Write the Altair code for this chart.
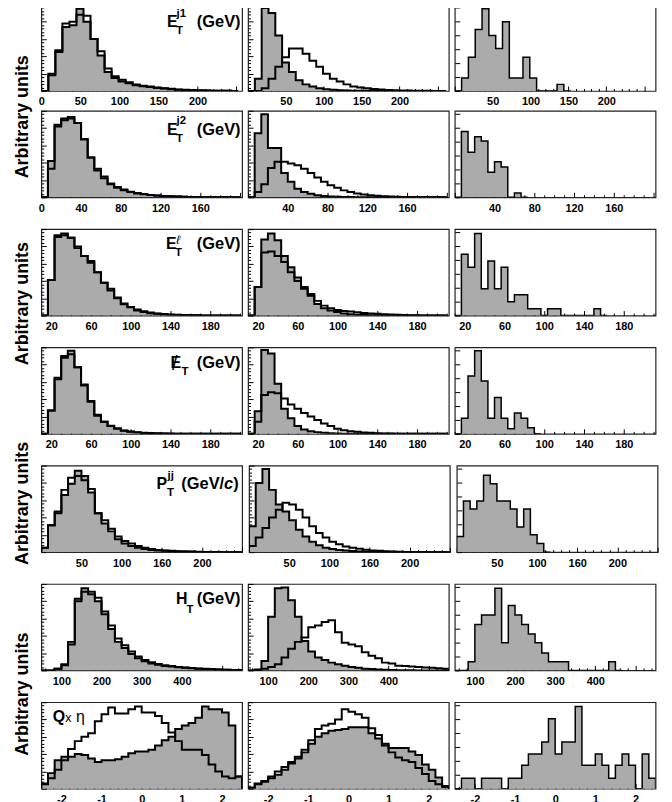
import altair as alt
import pandas as pd

GRAY = "#ababab"
INK = "#000000"
FONT = "Liberation Sans"
NUM_FONT = "Liberation Sans Narrow, Liberation Sans"

# ---------------- histogram contents (arbitrary units) ----------------
R1C1_GRAY = [0, 20, 47, 74, 76, 95, 80, 60, 41, 22, 15, 11, 9, 6.5, 5.5, 4.5, 3.5, 2.8, 2, 1.5, 1.2, 0.9, 0.6, 0.4, 0.3, 0.2, 0.1, 0]
R1C1_OPEN = [0, 18, 45, 78, 80, 88, 87, 60, 46, 26, 17, 13, 10, 7.5, 6, 5, 4, 3.2, 2.4, 1.8, 1.4, 1, 0.7, 0.5, 0.3, 0.2, 0.1, 0]
R1C2_GRAY = [0, 14, 96, 90, 64, 33, 22, 12.5, 7.6, 5, 3, 2, 1.3, 0.8, 0.5, 0.3, 0.2, 0.1, 0, 0, 0, 0, 0, 0, 0, 0, 0, 0, 0]
R1C2_OPEN = [0, 0, 3, 14, 28, 39, 49, 49, 43, 35, 28, 20, 14, 11, 7.6, 5, 4, 3, 2.2, 1.6, 1.2, 0.9, 0.6, 0.4, 0.3, 0.2, 0.1, 0.05, 0]
R1C3 = [0, 15, 39, 71, 95, 64, 49, 80, 15, 15, 39, 15, 0, 0, 0, 7.6, 0]

R2C1_GRAY = [0, 42, 84, 91, 93, 86, 67, 46, 31, 22, 15, 11, 8, 6, 4.5, 3.4, 2.6, 2, 1.5, 1.1, 0.8, 0.6, 0.4, 0.3, 0.2, 0.15, 0.1, 0.05, 0, 0]
R2C1_OPEN = [0, 33, 82, 89, 91, 86, 67, 46, 33, 24, 16, 12, 9, 6.5, 5, 3.8, 2.8, 2.1, 1.6, 1.2, 0.9, 0.6, 0.4, 0.3, 0.2, 0.15, 0.1, 0.05, 0, 0]
R2C2_GRAY = [0, 74, 96, 57, 57, 28, 18, 10, 6, 4, 2.5, 1.6, 1, 0.6, 0.4, 0.25, 0.15, 0.1, 0.05, 0, 0, 0, 0, 0, 0, 0, 0, 0, 0, 0]
R2C2_OPEN = [0, 6, 15, 34, 41, 41, 39, 37, 33, 28, 23, 18, 14, 11, 8, 6, 4.5, 3.3, 2.5, 1.8, 1.3, 0.9, 0.6, 0.4, 0.3, 0.2, 0.1, 0.05, 0, 0]
R2C3 = [0, 76, 52, 70, 65, 29, 41, 35, 0, 5, 0]

R3C1_GRAY = [0, 41, 93, 95, 90, 78, 69, 61, 50, 38, 29, 20, 13, 9.5, 6, 4, 2.7, 2, 1.5, 1.1, 0.8, 0.6, 0.4, 0.3, 0.2, 0.15, 0.1, 0.05, 0, 0]
R3C1_OPEN = [0, 41, 91, 93, 90, 80, 69, 63, 50, 38, 31, 21, 14, 10, 7, 5, 3.5, 2.5, 1.8, 1.3, 1, 0.7, 0.5, 0.3, 0.2, 0.15, 0.1, 0.05, 0, 0]
R3C2_GRAY = [0, 33, 88, 95, 87, 69, 56, 44, 33, 23, 13.5, 8.5, 6, 4, 2.5, 1.5, 1, 0.6, 0.4, 0.3, 0.2, 0.1, 0.05, 0, 0, 0, 0, 0, 0, 0]
R3C2_OPEN = [0, 33, 73, 74, 69, 62, 50, 40, 31, 25, 17, 11.5, 8.5, 6.5, 5.4, 4.6, 3.8, 3, 2.3, 2, 1.5, 1.2, 0.9, 0.6, 0.4, 0.3, 0.2, 0.1, 0, 0]
R3C3 = [0, 71, 56, 95, 31, 63, 31, 56, 16, 24, 24, 8, 8, 0, 8, 8, 0, 0, 0, 0, 0, 8, 0]

R4C1_GRAY = [0, 27, 65, 90, 96, 77, 56, 37, 21, 14, 9, 6, 3.5, 2.3, 1.5, 1, 0.7, 0.5, 0.3, 0.2, 0.1, 0.05, 0, 0, 0, 0, 0, 0, 0, 0]
R4C1_OPEN = [0, 27, 63, 88, 92, 77, 57, 38, 22, 14, 9.5, 6.5, 4, 2.8, 2, 1.4, 1, 0.7, 0.5, 0.3, 0.2, 0.1, 0.05, 0, 0, 0, 0, 0, 0, 0]
R4C2_GRAY = [0, 26, 97, 93, 58, 29, 18, 9, 5, 3, 2, 1.2, 0.7, 0.4, 0.2, 0.1, 0, 0, 0, 0, 0, 0, 0, 0, 0, 0, 0, 0, 0, 0]
R4C2_OPEN = [0, 14, 45, 48, 47, 41, 34, 29, 24, 20, 16, 12, 9, 6, 4.3, 3, 2.3, 1.6, 1.2, 0.8, 0.5, 0.3, 0.2, 0.1, 0, 0, 0, 0, 0, 0]
R4C3 = [0, 18, 67, 96, 61, 18, 42, 18, 6, 24, 18, 7, 0]

R5C1_GRAY = [5, 31, 47, 66, 79, 94, 88, 69, 45, 33, 24, 15, 10, 7, 5, 3.5, 2.5, 2, 1.5, 1, 0.8, 0.6, 0.4, 0.3, 0.2, 0.1, 0.1, 0, 0, 0]
R5C1_OPEN = [5, 31, 45, 72, 86, 88, 83, 73, 45, 37, 27, 18, 13, 10, 7, 5, 3.5, 2.5, 2, 1.5, 1, 0.8, 0.6, 0.4, 0.3, 0.2, 0.1, 0, 0, 0]
R5C2_GRAY = [30, 80, 96, 72, 55, 47, 37, 26, 18, 12, 8, 5, 3.5, 2.5, 1.8, 1.2, 0.8, 0.5, 0.3, 0.2, 0.1, 0, 0, 0, 0, 0, 0, 0, 0, 0]
R5C2_OPEN = [7, 17, 28, 40, 49, 57, 55, 49, 40, 30, 22, 17, 12, 9, 6.5, 5, 4, 2.7, 2, 1.5, 1, 0.8, 0.5, 0.3, 0.2, 0.1, 0.05, 0, 0, 0]
R5C3 = [18, 59, 50, 59, 89, 79, 59, 59, 50, 29, 50, 20, 10, 0]

R6C1_GRAY = [0, 0, 2, 7, 33, 83, 95, 88, 80, 65, 48, 33, 26, 19, 14, 10.5, 8, 6.5, 5, 4.5, 3.7, 3, 2.5, 2, 1.7, 1.4, 1.1, 0.8, 0.6, 0.4]
R6C1_OPEN = [0, 0, 2, 6, 30, 80, 91, 91, 84, 68, 52, 37, 29, 22, 16, 12, 9.5, 7.5, 6, 5, 4, 3.3, 2.7, 2.2, 1.8, 1.5, 1.2, 0.9, 0.6, 0.4]
R6C2_GRAY = [0, 0, 11, 62, 95, 96, 81, 62, 34, 22, 15, 12, 9, 7, 5.5, 4, 3, 2, 1.5, 1, 0.7, 0.5, 0.3, 0.2, 0.1, 0, 0, 0, 0, 0]
R6C2_OPEN = [0, 1, 2, 4, 7, 15, 25, 33, 38, 50, 52, 56, 58, 44, 32, 30, 28, 21, 17, 14, 9, 8, 5.5, 5, 4.5, 4, 3.5, 3, 2.5, 2]
R6C3 = [0, 0, 10, 53, 64, 64, 95, 32, 75, 64, 53, 42, 32, 20, 10, 10, 10, 0, 0, 0, 0, 0, 0, 10, 0]

R7C1_GRAY = [6, 18, 33, 37, 37, 40, 39, 35, 31, 33, 33, 34, 37, 41, 43, 43, 45, 50, 56, 60, 69, 73, 76, 82, 95, 92, 92, 88, 73, 14]
R7C1_OPEN = [5, 12, 22, 33, 46, 55, 60, 64, 78, 86, 94, 87, 87, 92, 95, 88, 88, 84, 76, 65, 55, 45, 45, 45, 39, 28, 20, 14, 12, 14]
R7C2_GRAY = [1, 5, 8, 12, 16, 22, 29, 35, 42, 52, 60, 64, 67, 68, 69, 71, 71, 71, 64, 58, 52, 47, 47, 47, 43, 39, 28, 22, 13, 3]
R7C2_OPEN = [1, 6, 9, 14, 20, 25, 31, 37, 45, 56, 69, 73, 75, 80, 92, 89, 86, 82, 70, 62, 50, 42, 36, 33, 31, 24, 17, 9, 5, 2]
R7C3 = [0, 12, 12, 0, 12, 12, 12, 0, 12, 12, 27, 40, 40, 54, 81, 40, 54, 54, 95, 27, 27, 40, 27, 12, 27, 40, 27, 0, 40, 12]

# ---------------- binning: (first edge, bin width) ----------------
BIN_R1 = (0, 9)
BIN_R2 = (0, 20 / 3)
BIN_R34 = (10, 20 / 3)
BIN_R5 = (0, 25 / 3)
BIN_R6 = (50, 50 / 3)
BIN_R7 = (-2.5, 1 / 6)

# ---------------- x ranges per panel ----------------
DOM_R1 = [[0, 257], [0, 265], [0, 265]]
DOM_R2 = [[0, 202]] * 3
DOM_R34 = [[10, 212]] * 3
DOM_R5 = [[0, 250]] * 3
DOM_R6 = [[50, 550]] * 3
DOM_R7 = [[-2.5, 2.5]] * 3

# ---------------- x ticks and their labels ----------------
TICKS_R1 = list(range(0, 251, 10))
TICKS_R2 = list(range(0, 201, 10))
TICKS_R34 = list(range(10, 211, 10))
TICKS_R5 = list(range(0, 251, 10))
TICKS_R6 = list(range(60, 541, 20))
TICKS_R7 = [round(-2.4 + 0.2 * k, 6) for k in range(25)]

LAB_R1 = [[(0, "0"), (50, "50"), (100, "100"), (150, "150"), (200, "200")],
          [(50, "50"), (100, "100"), (150, "150"), (200, "200")],
          [(50, "50"), (100, "100"), (150, "150"), (200, "200")]]
LAB_R2 = [[(0, "0"), (40, "40"), (80, "80"), (120, "120"), (160, "160")],
          [(40, "40"), (80, "80"), (120, "120"), (160, "160")],
          [(40, "40"), (80, "80"), (120, "120"), (160, "160")]]
LAB_R34 = [[(20, "20"), (60, "60"), (100, "100"), (140, "140"), (180, "180")]] * 3
LAB_R5 = [[(50, "50"), (100, "100"), (150, "160"), (200, "200")]] * 3
LAB_R6 = [[(100, "100"), (200, "200"), (300, "300"), (400, "400")]] * 3
LAB_R7 = [[(-2, "-2"), (-1, "-1"), (0, "0"), (1, "1"), (2, "2")]] * 3

MAJOR_R1 = "datum.value % 50 === 0"
MAJOR_R2 = "datum.value % 40 === 0"
MAJOR_R34 = "(datum.value + 20) % 40 === 0"
MAJOR_R5 = "datum.value % 50 === 0"
MAJOR_R6 = "datum.value % 100 === 0"
MAJOR_R7 = "datum.value % 1 === 0"

Y_TICKS_DENSE = list(range(0, 101, 4))
Y_TICKS_SPARSE = list(range(0, 100, 16))

ROWS = [
    dict(gray=[R1C1_GRAY, R1C2_GRAY, R1C3], open=[R1C1_OPEN, R1C2_OPEN, None], bins=BIN_R1,
         dom=DOM_R1, ticks=TICKS_R1, labels=LAB_R1, major=MAJOR_R1),
    dict(gray=[R2C1_GRAY, R2C2_GRAY, R2C3], open=[R2C1_OPEN, R2C2_OPEN, None], bins=BIN_R2,
         dom=DOM_R2, ticks=TICKS_R2, labels=LAB_R2, major=MAJOR_R2),
    dict(gray=[R3C1_GRAY, R3C2_GRAY, R3C3], open=[R3C1_OPEN, R3C2_OPEN, None], bins=BIN_R34,
         dom=DOM_R34, ticks=TICKS_R34, labels=LAB_R34, major=MAJOR_R34),
    dict(gray=[R4C1_GRAY, R4C2_GRAY, R4C3], open=[R4C1_OPEN, R4C2_OPEN, None], bins=BIN_R34,
         dom=DOM_R34, ticks=TICKS_R34, labels=LAB_R34, major=MAJOR_R34),
    dict(gray=[R5C1_GRAY, R5C2_GRAY, R5C3], open=[R5C1_OPEN, R5C2_OPEN, None], bins=BIN_R5,
         dom=DOM_R5, ticks=TICKS_R5, labels=LAB_R5, major=MAJOR_R5),
    dict(gray=[R6C1_GRAY, R6C2_GRAY, R6C3], open=[R6C1_OPEN, R6C2_OPEN, None], bins=BIN_R6,
         dom=DOM_R6, ticks=TICKS_R6, labels=LAB_R6, major=MAJOR_R6),
    dict(gray=[R7C1_GRAY, R7C2_GRAY, R7C3], open=[R7C1_OPEN, R7C2_OPEN, None], bins=BIN_R7,
         dom=DOM_R7, ticks=TICKS_R7, labels=LAB_R7, major=MAJOR_R7),
]

# in-panel variable names: (text, x, y, size, weight, style, align)
TITLES = [
    [("E", 126.5, 23, 16, "bold", "normal", "left"), ("j1", 136, 12.5, 11.5, "bold", "normal", "left"),
     ("T", 135.5, 30, 11.5, "bold", "normal", "left"), ("(GeV)", 200.5, 23, 16.5, "bold", "normal", "right")],
    [("E", 126.5, 24, 16, "bold", "normal", "left"), ("j2", 136, 13, 11.5, "bold", "normal", "left"),
     ("T", 135.5, 31, 11.5, "bold", "normal", "left"), ("(GeV)", 200.5, 24, 16.5, "bold", "normal", "right")],
    [("E", 125.5, 20, 16, "bold", "normal", "left"), ("ℓ", 136, 15, 12, "normal", "italic", "left"),
     ("T", 134.5, 27.5, 11.5, "bold", "normal", "left"), ("(GeV)", 200.5, 20, 16.5, "bold", "normal", "right")],
    [("E", 130, 20.5, 16, "bold", "normal", "left"), ("/", 131.5, 22.5, 20, "normal", "normal", "left"),
     ("T", 141, 27.5, 11.5, "bold", "normal", "left"), ("(GeV)", 200.5, 20.5, 16.5, "bold", "normal", "right")],
    [("P", 116, 23.5, 16, "bold", "normal", "left"), ("jj", 127, 13, 11.5, "bold", "normal", "left"),
     ("T", 126.5, 30.5, 11.5, "bold", "normal", "left"), (")", 198.5, 23.5, 16.5, "bold", "normal", "right"),
     ("c", 193, 23.5, 16.5, "bold", "italic", "right"), ("(GeV/", 184, 23.5, 16.5, "bold", "normal", "right")],
    [("H", 135.5, 20, 16, "bold", "normal", "left"), ("T", 146, 29.5, 11.5, "bold", "normal", "left"),
     ("(GeV)", 200.5, 20, 16.5, "bold", "normal", "right")],
    [("Q", 11.5, 20, 16, "bold", "normal", "left"), ("x", 24, 20, 12.5, "normal", "normal", "left"),
     ("η", 35, 20, 16, "normal", "normal", "left")],
]

Y_LABEL = "Arbitrary units"
Y_LABEL_POS = [113, 301, 502, 694]

PANEL_W = 202
PANEL_H = 87


def area_table(vals, start, width):
    xs = [start + i * width for i in range(len(vals) + 1)]
    pts = [(xs[i], v) for i, v in enumerate(vals)] + [(xs[-1], 0.0)]
    return pd.DataFrame({"x": [p[0] for p in pts], "y": [p[1] for p in pts]})


def line_table(vals, start, width):
    xs = [start + i * width for i in range(len(vals) + 1)]
    pts = [(xs[0], 0.0)] + [(xs[i], v) for i, v in enumerate(vals)] + [(xs[-1], 0.0)]
    return pd.DataFrame({"x": [p[0] for p in pts], "y": [p[1] for p in pts], "i": list(range(len(pts)))})


def label_expr(pairs):
    expr = "''"
    for v, t in reversed(pairs):
        expr = f"(datum.value === {v} ? '{t}' : {expr})"
    return expr


def make_panel(r, c):
    spec = ROWS[r]
    start, width = spec["bins"]
    lw = 2.0 if c < 2 else 1.5
    xaxis = alt.Axis(
        values=spec["ticks"],
        tickSize={"condition": {"test": spec["major"], "value": -5}, "value": -2.5},
        tickColor=INK, tickWidth=1,
        labelExpr=label_expr(spec["labels"][c]),
        labelFont=NUM_FONT, labelFontSize=11, labelFontWeight="bold", labelColor=INK,
        labelPadding=10, labelFlush=False, labelOverlap=False,
        domain=False, grid=False, title=None,
    )
    if c < 2:
        yvals, ytest = Y_TICKS_DENSE, "datum.value % 20 === 0"
    else:
        yvals, ytest = Y_TICKS_SPARSE, "datum.value >= 0"
    yaxis = alt.Axis(
        values=yvals,
        tickSize={"condition": {"test": ytest, "value": -5}, "value": -2.5},
        tickColor=INK, tickWidth=1, labels=False, domain=False, grid=False, title=None,
    )
    X = alt.X("x:Q", scale=alt.Scale(domain=spec["dom"][c], nice=False, zero=False), axis=xaxis)
    Y = alt.Y("y:Q", scale=alt.Scale(domain=[0, 100], nice=False), axis=yaxis, stack=None)

    layers = [
        alt.Chart(area_table(spec["gray"][c], start, width)).mark_area(
            interpolate="step-after", color=GRAY, clip=True).encode(x=X, y=Y)
    ]
    if spec["open"][c] is not None:
        layers.append(
            alt.Chart(line_table(spec["open"][c], start, width)).mark_line(
                interpolate="step-after", color=INK, strokeWidth=lw, clip=True).encode(
                x=X, y=Y, order=alt.Order("i:Q")))
    layers.append(
        alt.Chart(line_table(spec["gray"][c], start, width)).mark_line(
            interpolate="step-after", color=INK, strokeWidth=lw, clip=True).encode(
            x=X, y=Y, order=alt.Order("i:Q")))
    if c == 0:
        for (t, tx, ty, size, weight, style, align) in TITLES[r]:
            layers.append(
                alt.Chart(pd.DataFrame({"k": [0]})).mark_text(
                    text=t, font=FONT, fontSize=size, fontWeight=weight, fontStyle=style,
                    align=align, baseline="alphabetic", color=INK).encode(
                    x=alt.value(tx), y=alt.value(ty)))
    return alt.layer(*layers).properties(width=PANEL_W, height=PANEL_H)


def make_row(r):
    return alt.hconcat(*[make_panel(r, c) for c in range(3)], spacing=3)


top_pair = alt.vconcat(make_row(0), make_row(1), spacing=-3)
grid = alt.vconcat(top_pair, *[make_row(r) for r in range(2, 7)], spacing=10)

label_layers = [
    alt.Chart(pd.DataFrame({"k": [0]})).mark_text(
        text=Y_LABEL, font=FONT, fontSize=18, fontWeight="bold", angle=270,
        align="center", baseline="middle", color=INK).encode(x=alt.value(14), y=alt.value(p))
    for p in Y_LABEL_POS
]
label_col = alt.layer(*label_layers).properties(
    width=26, height=780, view=alt.ViewBackground(stroke="transparent"))

chart = alt.hconcat(label_col, grid, spacing=1.5).properties(
    padding={"left": 0, "top": -8, "right": 5, "bottom": 0}
).configure(background="white").configure_view(stroke="#222222", strokeWidth=1.2)

chart.save("out.html", embed_options={"renderer": "svg", "actions": False})
